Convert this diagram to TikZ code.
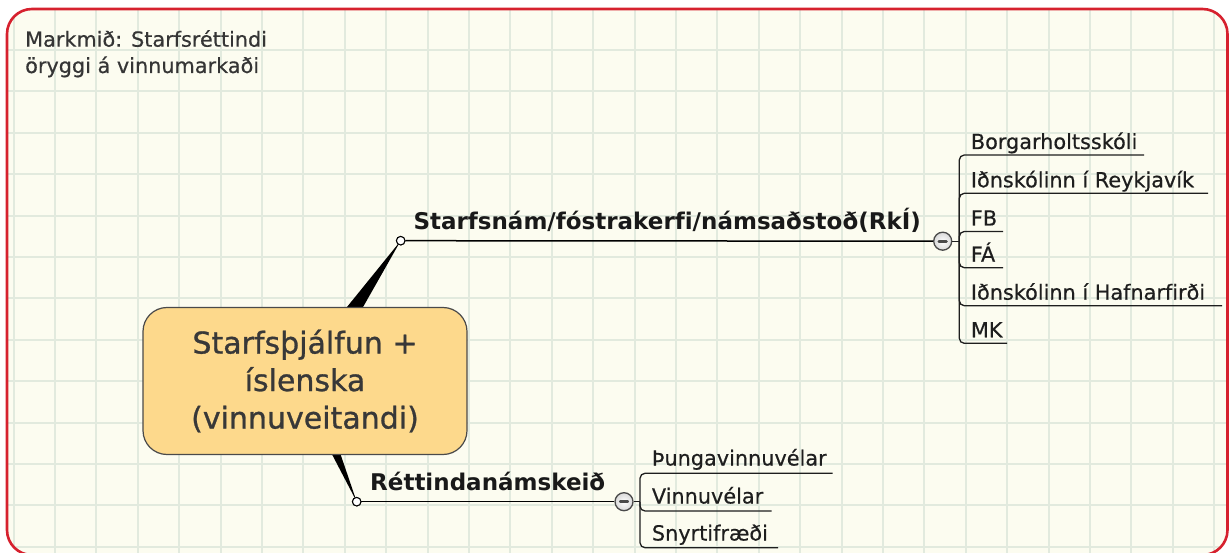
\documentclass[tikz,border=0pt]{standalone}
\usepackage{fontspec}
\setmainfont{DejaVu Sans}[Ligatures=NoCommon]
\newfontfamily\medfont{DejaVu Sans}[Ligatures=NoCommon, FakeBold=0.9]
\newfontfamily\semfont{DejaVu Sans}[Ligatures=NoCommon, FakeBold=0.5]
\usetikzlibrary{calc}
\definecolor{bgcol}{HTML}{FCFCF0}
\definecolor{gridcol}{HTML}{E2EADE}
\definecolor{framecol}{HTML}{D6212E}
\definecolor{rootfill}{HTML}{FDD98C}
\definecolor{rootdraw}{HTML}{4A4A4A}
\definecolor{roottext}{HTML}{383838}
\definecolor{txt}{HTML}{1E1E1E}
\tikzset{
  gridline/.style={draw=gridcol, line width=2pt},
  framebox/.style={draw=framecol, line width=2.6pt, rounded corners=25pt},
  rootbox/.style={draw=rootdraw, fill=rootfill, line width=1.2pt, rounded corners=24pt,
    minimum width=324pt, minimum height=147pt, align=center, text=roottext,
    font=\medfont\fontsize{30}{37.5}\selectfont, inner sep=0pt},
  dot/.style={circle, draw=black, fill=white, line width=1pt, minimum size=8.5pt, inner sep=0pt},
  collapse/.style={circle, draw=rootdraw, line width=1.3pt, inner color=white, outer color=gray!30,
    minimum size=18pt, inner sep=0pt},
  branchline/.style={draw=black, line width=1.5pt},
  childline/.style={draw=txt, line width=1.3pt, rounded corners=5pt},
  blabel/.style={anchor=base west, inner sep=0pt, text=black!90, font=\fontsize{23}{28}\selectfont\bfseries},
  clabel/.style={anchor=base west, inner sep=0pt, text=txt, font=\semfont\fontsize{20.8}{26}\selectfont},
  tlabel/.style={anchor=base west, inner sep=0pt, text=txt!90, font=\semfont\fontsize{20.8}{26}\selectfont},
  wedge/.style={fill=black},
}
\newcommand{\minusmark}[1]{\draw[line width=2.8pt, line cap=round, draw=rootdraw] ($(#1.center)+(-3.8,0)$) -- ($(#1.center)+(3.8,0)$);}
\begin{document}
\begin{tikzpicture}[x=1pt,y=-1pt]
\useasboundingbox (0,0) rectangle (1229,553);
% background and grid
\begin{scope}
  \clip[rounded corners=25pt] (7,9) rectangle (1227.5,555);
  \fill[bgcol] (0,0) rectangle (1229,560);
  \foreach \i in {0,...,29} \draw[gridline] ({13.6+41.4*\i},0) -- ++(0,560);
  \foreach \i in {0,...,13} \draw[gridline] (0,{8.6+41.4*\i}) -- ++(1229,0);
\end{scope}
\draw[framebox] (7,9) rectangle (1227.5,555);

% title
\node[tlabel] (t1) at (25,46.7) {Markmið: Starfsréttindi};
\node[tlabel] (t2) at (25,73) {öryggi á vinnumarkaði};

% anchors
\coordinate (rc) at (305,381);
\node[dot] (b1) at (400.7,240.7) {};
\node[dot] (b2) at (356.7,501.7) {};

% wedges
\fill[wedge] ($(rc)!14pt!90:(b1)$) -- (b1.center) -- ($(rc)!14pt!-90:(b1)$) -- cycle;
\fill[wedge] ($(rc)!10pt!90:(b2)$) -- (b2.center) -- ($(rc)!10pt!-90:(b2)$) -- cycle;

% root
\node[rootbox] (root) at (rc) {Starfsþjálfun +\\íslenska\\(vinnuveitandi)};
\node[dot] at (b1) {};
\node[dot] at (b2) {};

% branch 1
\node[collapse] (k1) at (942.7,241.2) {};
\minusmark{k1}
\draw[branchline] (b1) -- (k1);
\node[blabel] (l1) at (413.3,229.3) {Starfsnám/fóstrakerfi/námsaðstoð(RkÍ)};
\coordinate (j1) at (959.3,241.2);
\draw[childline] (k1) -- (j1);
\coordinate (e11) at (1144,155);
\coordinate (e12) at (1208,193.3);
\coordinate (e13) at (1003,231.5);
\coordinate (e14) at (1003,267.7);
\coordinate (e15) at (1222,305.7);
\coordinate (e16) at (1007,343.3);
\foreach \e in {e11,e12,e13,e14,e15,e16} \draw[childline] (j1) |- (\e);
\node[clabel] (c11) at (970.7,149) {Borgarholtsskóli};
\node[clabel] (c12) at (970.7,187.3) {Iðnskólinn í Reykjavík};
\node[clabel] (c13) at (970.7,225.5) {FB};
\node[clabel] (c14) at (970.7,261.7) {FÁ};
\node[clabel] (c15) at (970.7,299.7) {Iðnskólinn í Hafnarfirði};
\node[clabel] (c16) at (970.7,337.3) {MK};

% branch 2
\node[collapse] (k2) at (624,501.7) {};
\minusmark{k2}
\draw[branchline] (b2) -- (k2);
\node[blabel] (l2) at (370,490) {Réttindanámskeið};
\coordinate (j2) at (640,501.7);
\draw[childline] (k2) -- (j2);
\coordinate (e21) at (832.7,473.3);
\coordinate (e22) at (771.7,511);
\coordinate (e23) at (778,547.7);
\foreach \e in {e21,e22,e23} \draw[childline] (j2) |- (\e);
\node[clabel] (c21) at (651.7,465.5) {Þungavinnuvélar};
\node[clabel] (c22) at (651.7,503.5) {Vinnuvélar};
\node[clabel] (c23) at (651.7,540.5) {Snyrtifræði};
\end{tikzpicture}
\end{document}
